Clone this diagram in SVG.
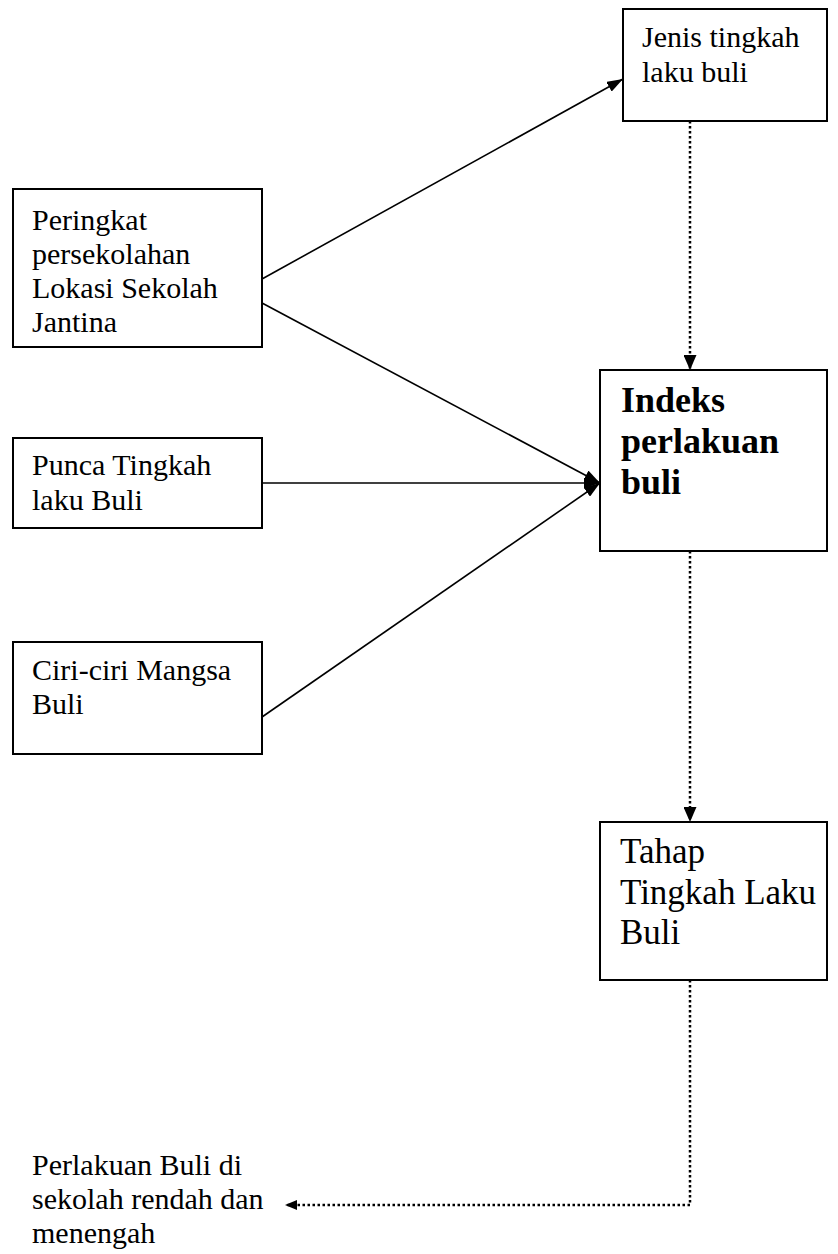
<svg xmlns="http://www.w3.org/2000/svg" width="838" height="1254" viewBox="0 0 838 1254">
  <defs>
    <style>
      .box { fill: #ffffff; stroke: #000000; stroke-width: 2; }
      .t { font-family: "Liberation Serif", "Times New Roman", serif; font-size: 30px; fill: #000000; }
      .big { font-size: 35px; }
      .bold { font-weight: bold; font-size: 36px; }
      .solid { stroke: #000000; stroke-width: 1.6; fill: none; }
      .dot { stroke: #000000; stroke-width: 2.5; fill: none; stroke-dasharray: 2.5 2.5; }
    </style>
    <marker id="ah" viewBox="0 0 16 11" refX="16" refY="5.5" markerWidth="16" markerHeight="11" markerUnits="userSpaceOnUse" orient="auto">
      <path d="M0,0 L16,5.5 L0,11 Z" fill="#000000"/>
    </marker>
    <marker id="ahd" viewBox="0 0 15 13" refX="15" refY="6.5" markerWidth="15" markerHeight="13" markerUnits="userSpaceOnUse" orient="auto">
      <path d="M0,0 L15,6.5 L0,13 Z" fill="#000000"/>
    </marker>
    <marker id="ahs" viewBox="0 0 12 10" refX="12" refY="5" markerWidth="12" markerHeight="10" markerUnits="userSpaceOnUse" orient="auto">
      <path d="M0,0 L12,5 L0,10 Z" fill="#000000"/>
    </marker>
  </defs>
  <rect x="0" y="0" width="838" height="1254" fill="#ffffff"/>

  <g id="connectors">
    <line class="solid" x1="262" y1="279" x2="623" y2="79" marker-end="url(#ah)"/>
    <line class="solid" x1="262" y1="303" x2="600" y2="483" marker-end="url(#ah)"/>
    <line class="solid" x1="262" y1="483" x2="600" y2="483" marker-end="url(#ah)"/>
    <line class="solid" x1="262" y1="717" x2="600" y2="483" marker-end="url(#ah)"/>
    <line class="dot" x1="690" y1="121" x2="690" y2="370" marker-end="url(#ahd)"/>
    <line class="dot" x1="690" y1="551" x2="690" y2="822" marker-end="url(#ahd)"/>
    <polyline class="dot" points="690,980 690,1205 285,1205" marker-end="url(#ahs)"/>
  </g>

  <g id="jenis">
    <rect class="box" x="623" y="9" width="204" height="112"/>
    <text class="t" x="642" y="47">Jenis tingkah</text>
    <text class="t" x="642" y="82">laku buli</text>
  </g>

  <g id="peringkat">
    <rect class="box" x="13" y="189" width="249" height="158"/>
    <text class="t" x="32" y="230">Peringkat</text>
    <text class="t" x="32" y="264">persekolahan</text>
    <text class="t" x="32" y="298">Lokasi Sekolah</text>
    <text class="t" x="32" y="332">Jantina</text>
  </g>

  <g id="punca">
    <rect class="box" x="13" y="438" width="249" height="90"/>
    <text class="t" x="32" y="475">Punca Tingkah</text>
    <text class="t" x="32" y="510">laku Buli</text>
  </g>

  <g id="ciri">
    <rect class="box" x="13" y="642" width="249" height="112"/>
    <text class="t" x="32" y="680">Ciri-ciri Mangsa</text>
    <text class="t" x="32" y="714">Buli</text>
  </g>

  <g id="indeks">
    <rect class="box" x="600" y="370" width="227" height="181"/>
    <text class="t bold" x="621" y="412">Indeks</text>
    <text class="t bold" x="621" y="453">perlakuan</text>
    <text class="t bold" x="621" y="494">buli</text>
  </g>

  <g id="tahap">
    <rect class="box" x="600" y="822" width="227" height="158"/>
    <text class="t big" x="620" y="863">Tahap</text>
    <text class="t big" x="620" y="904">Tingkah Laku</text>
    <text class="t big" x="620" y="944">Buli</text>
  </g>

  <g id="perlakuan">
    <text class="t" x="32" y="1175">Perlakuan Buli di</text>
    <text class="t" x="32" y="1209">sekolah rendah dan</text>
    <text class="t" x="32" y="1243">menengah</text>
  </g>
</svg>
